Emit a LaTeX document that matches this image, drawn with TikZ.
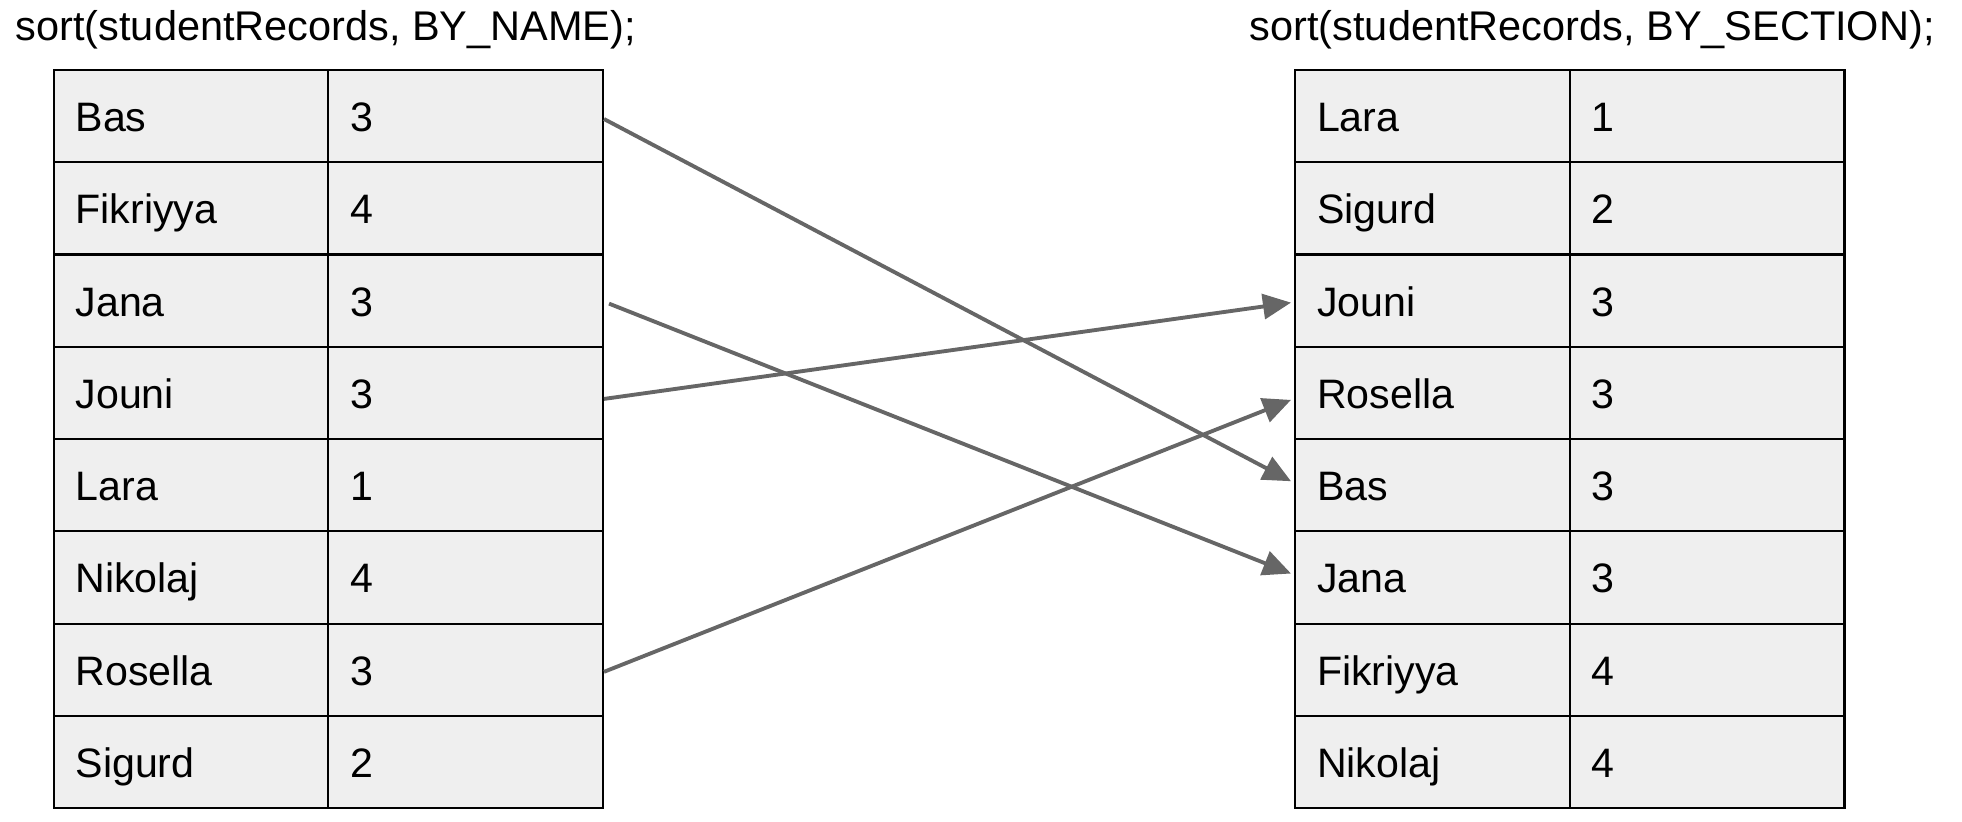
\documentclass[tikz,border=0pt]{standalone}
\usepackage{fontspec}
\setmainfont{Liberation Sans}
\usetikzlibrary{arrows.meta,calc}
\definecolor{cellfill}{HTML}{EFEFEF}
\definecolor{arrowgray}{HTML}{666666}
\tikzset{
 cell/.style={rectangle, draw=black, line width=0.6pt, fill=cellfill, minimum height=0.923cm, text width=2.305cm, text height=11pt, text depth=2.2pt, inner xsep=0.22cm, inner ysep=0pt, align=left, anchor=north west, font=\fontsize{11.7}{14}\selectfont},
 title/.style={anchor=base west, inner sep=0pt, font=\fontsize{11.8}{14}\selectfont},
 link/.style={draw=arrowgray, line width=1.1pt, -{Triangle[length=0.28cm,width=0.25cm]}}
}
\begin{document}
\begin{tikzpicture}[x=0.01cm,y=-0.01cm]
\useasboundingbox (0,0) rectangle (1962,822);
\node[title] (t1) at (15,41) {sort(studentRecords, BY\_NAME);};
\node[title] (t2) at (1249,41) {sort(studentRecords, BY\_SECTION);};
\foreach \n/\s [count=\i] in {Bas/3,Fikriyya/4,Jana/3,Jouni/3,Lara/1,Nikolaj/4,Rosella/3,Sigurd/2} {
  \node[cell] (La\i) at (52.5, {68.8+92.3*(\i-1)}) {\n};
  \node[cell] (Lb\i) at (327.25, {68.8+92.3*(\i-1)}) {\s};
}
\foreach \n/\s [count=\i] in {Lara/1,Sigurd/2,Jouni/3,Rosella/3,Bas/3,Jana/3,Fikriyya/4,Nikolaj/4} {
  \node[cell] (Ra\i) at (1294, {68.8+92.3*(\i-1)}) {\n};
  \node[cell] (Rb\i) at (1568.75, {68.8+92.3*(\i-1)}) {\s};
}
\draw[link] ($(Lb1.east)+(0,3)$) -- ($(Ra5.west)+(-3,-4)$);
\draw[link] ($(Lb3.east)+(5,3)$) -- ($(Ra6.west)+(-3,-4)$);
\draw[link] ($(Lb4.east)+(0,6)$) -- ($(Ra3.west)+(-3,2)$);
\draw[link] ($(Lb7.east)+(0,2)$) -- ($(Ra4.west)+(-3,7)$);
\end{tikzpicture}
\end{document}
